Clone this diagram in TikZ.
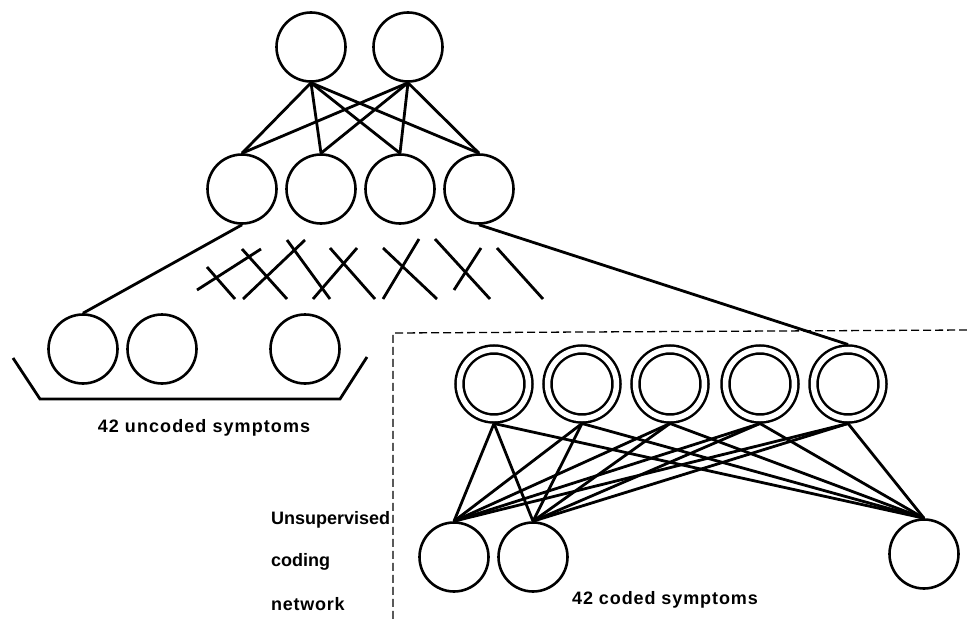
\documentclass[tikz,border=0pt]{standalone}
\usepackage{fontspec}
\setmainfont{Liberation Sans}
\usepackage{tikz}

\begin{document}
\begin{tikzpicture}[x=1pt, y=-1pt,
    neuron/.style={circle, draw, line width=2.6pt, minimum size=69pt, inner sep=0pt},
    codedneuron/.style={circle, draw, line width=2.5pt, double=white, double distance=5.5pt,
                        minimum size=69pt, inner sep=0pt, outer sep=5pt},
    link/.style={line width=2.8pt},
    rotulo/.style={font=\fontsize{18}{20}\selectfont\bfseries, inner sep=0pt}]
        \useasboundingbox (0,0) rectangle (967,621);

        % Camada de cima
        \node[neuron] (t1) at (311,47) {};
        \node[neuron] (t2) at (408,47) {};

        % Camada do meio
        \foreach \i/\x in {1/242, 2/321, 3/400, 4/479}
          \node[neuron] (m\i) at (\x,189) {};
        \foreach \i in {1,...,4} {
          \draw[link] (t1.south) -- (m\i.north);
          \draw[link] (t2.south) -- (m\i.north);
        }

        % Ligacoes cortadas
        \foreach \xa/\ya/\xb/\yb in {197/290/261/249, 207/267/235/299, 242/249/287/299,
            243/299/305/240, 287/240/330/299, 313/299/357/248, 330/248/375/299,
            383/299/419/239, 383/248/437/299, 435/239/490/299, 454/290/481/248,
            497/248/543/299}
          \draw[link] (\xa,\ya) -- (\xb,\yb);

        % Sintomas sem codigo
        \foreach \i/\x in {1/83, 2/162, 3/305}
          \node[neuron] (u\i) at (\x,349) {};
        \draw[link] (13,358) -- (40,399) -- (340,399) -- (367,357);
        \draw[link] (m1.south) -- (u1.north);
        \node[rotulo, anchor=base] (uncoded) at (204,432)
          {\addfontfeature{LetterSpace=6}42 uncoded symptoms};

        % Rede de codificacao
        \draw[line width=1.3pt, dash pattern=on 8pt off 4pt] (967,330) -- (393,333) -- (393,621);
        \foreach \i/\x in {1/494, 2/582, 3/670, 4/760, 5/848}
          \node[codedneuron] (c\i) at (\x,384) {};
        \node[neuron] (b1) at (454,557) {};
        \node[neuron] (b2) at (533,557) {};
        \node[neuron] (b3) at (924,554) {};
        \foreach \i in {1,...,5}
          \foreach \j in {1,2,3}
            \draw[link] (c\i.south) -- (b\j.north);
        \draw[link] (m4.south) -- (c5.north);
        \node[rotulo, anchor=base] (coded) at (665,604)
          {\addfontfeature{LetterSpace=5}42 coded symptoms};

        % Texto lateral
        \node[rotulo, anchor=base west] (unsup) at (271,524) {Unsupervised};
        \node[rotulo, anchor=base west] (coding) at (271,566) {coding};
        \node[rotulo, anchor=base west] (network) at (271,610) {\addfontfeature{LetterSpace=4}network};
\end{tikzpicture}
\end{document}
